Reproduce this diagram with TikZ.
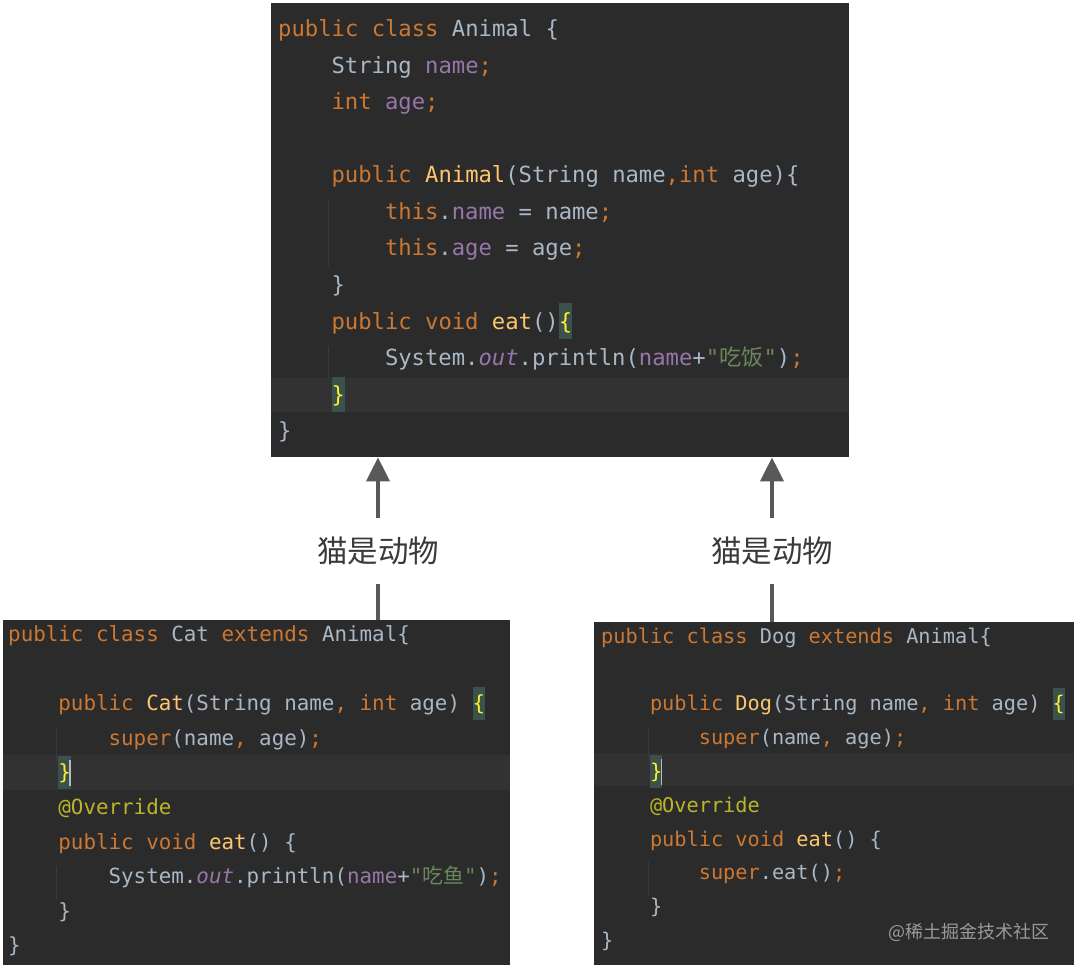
\documentclass[tikz,border=0pt]{standalone}
\usepackage{fontspec}
\usetikzlibrary{arrows.meta}
\newfontfamily\monof{DejaVu Sans Mono}
\newfontfamily\cjk{Noto Sans CJK SC}
\definecolor{bg}{HTML}{2B2B2B}
\definecolor{cur}{HTML}{323232}
\definecolor{kw}{HTML}{CC7832}
\definecolor{fd}{HTML}{9876AA}
\definecolor{fn}{HTML}{FFC66D}
\definecolor{tx}{HTML}{A9B7C6}
\definecolor{st}{HTML}{6A8759}
\definecolor{an}{HTML}{BBB529}
\definecolor{mb}{HTML}{FFEF28}
\definecolor{mbbg}{HTML}{3B514D}
\definecolor{arr}{HTML}{595959}
\definecolor{guide}{HTML}{3A3A3A}
\definecolor{lbl}{HTML}{3A3A3A}
\definecolor{wmc}{HTML}{9A9A9A}
\definecolor{caretc}{HTML}{BBBBBB}
\newcommand\K[1]{\textcolor{kw}{#1}}
\newcommand\F[1]{\textcolor{fd}{#1}}
\newcommand\M[1]{\textcolor{fn}{#1}}
\newcommand\Sx[1]{\textcolor{st}{#1}}
\newcommand\A[1]{\textcolor{an}{#1}}
\newcommand\I[1]{\textcolor{fd}{\itshape #1}}
\newcommand\MB[1]{{\setlength\fboxsep{0pt}\colorbox{mbbg}{\vrule height 1.15em depth 0.45em width 0pt\textcolor{mb}{#1}}}}
\newcommand\Caret{\kern-1.6pt\textcolor{caretc}{\vrule height 0.95em depth 0.3em width 1.6pt}}
\tikzset{
  codebox/.style={fill=bg, draw=none, inner sep=0pt, anchor=north west},
  curline/.style={fill=cur, draw=none},
  guideline/.style={draw=guide, line width=1pt},
  cl/.style={anchor=base west, inner sep=0pt, text=tx},
  topfont/.style={font=\monof\fontsize{22.2}{26}\selectfont},
  catfont/.style={font=\monof\fontsize{20.85}{25}\selectfont},
  dogfont/.style={font=\monof\fontsize{20.27}{24}\selectfont},
  lab/.style={inner sep=0pt, minimum height=66pt, text=lbl, font=\cjk\fontsize{30.5}{34}\selectfont},
  conn/.style={draw=arr, line width=4pt},
  tip/.style={-{Triangle[width=23pt,length=24pt]}}
}
\begin{document}
\begin{tikzpicture}[x=1pt,y=-1pt]
\useasboundingbox[fill=white] (0,0) rectangle (1077,969);

% ---------- boxes ----------
\node[codebox, minimum width=578pt, minimum height=454pt] (animal) at (271,3) {};
\node[codebox, minimum width=507pt, minimum height=345pt] (cat) at (3,620) {};
\node[codebox, minimum width=480pt, minimum height=343pt] (dog) at (594,622) {};

% current line highlights
\fill[curline] (271,378) rectangle (849,412);
\fill[curline] (3,755) rectangle (510,790);
\fill[curline] (594,753) rectangle (1074,786);

% indent guides
\draw[guideline] (328,200) -- (328,266);
\draw[guideline] (328,346) -- (328,378);
\draw[guideline] (56,728) -- (56,762);
\draw[guideline] (56,866) -- (56,900);
\draw[guideline] (648,727) -- (648,760);
\draw[guideline] (648,862) -- (648,896);

% ---------- Animal ----------
\begin{scope}[every node/.append style={cl, topfont}]
\node (t0) at (278,36.6) {\K{public class} Animal \{};
\node (t1) at (331.4,73.15) {String \F{name}\K{;}};
\node (t2) at (331.4,109.7) {\K{int} \F{age}\K{;}};
\node (t4) at (331.4,182.8) {\K{public} \M{Animal}(String name\K{,}\K{int} age)\{};
\node (t5) at (384.8,219.35) {\K{this}.\F{name} = name\K{;}};
\node (t6) at (384.8,255.9) {\K{this}.\F{age} = age\K{;}};
\node (t7) at (331.4,292.45) {\}};
\node (t8) at (331.4,329) {\K{public void} \M{eat}()\MB{\{}};
\node (t9) at (384.8,365.55) {System.\I{out}.println(\F{name}+\Sx{"{\cjk 吃饭}"})\K{;}};
\node (t10) at (331.4,402.1) {\MB{\}}};
\node (t11) at (278,438.65) {\}};
\end{scope}

% ---------- Cat ----------
\begin{scope}[every node/.append style={cl, catfont}]
\node (c0) at (8,641.5) {\K{public class} Cat \K{extends} Animal\{};
\node (c2) at (58.2,710.7) {\K{public} \M{Cat}(String name\K{,} \K{int} age) \MB{\{}};
\node (c3) at (108.4,745.3) {\K{super}(name\K{,} age)\K{;}};
\node (c4) at (58.2,779.9) {\MB{\}}\Caret};
\node (c5) at (58.2,814.5) {\A{@Override}};
\node (c6) at (58.2,849.1) {\K{public void} \M{eat}() \{};
\node (c7) at (108.4,883.7) {System.\I{out}.println(\F{name}+\Sx{"{\cjk 吃鱼}"})\K{;}};
\node (c8) at (58.2,918.3) {\}};
\node (c9) at (8,952.9) {\}};
\end{scope}

% ---------- Dog ----------
\begin{scope}[every node/.append style={cl, dogfont}]
\node (d0) at (601,643.3) {\K{public class} Dog \K{extends} Animal\{};
\node (d2) at (649.8,710.9) {\K{public} \M{Dog}(String name\K{,} \K{int} age) \MB{\{}};
\node (d3) at (698.6,744.7) {\K{super}(name\K{,} age)\K{;}};
\node (d4) at (649.8,778.5) {\MB{\}}\Caret};
\node (d5) at (649.8,812.3) {\A{@Override}};
\node (d6) at (649.8,846.1) {\K{public void} \M{eat}() \{};
\node (d7) at (698.6,879.9) {\K{super}.eat()\K{;}};
\node (d8) at (649.8,913.7) {\}};
\node (d9) at (601,947.5) {\}};
\end{scope}

% watermark
\node[anchor=east, inner sep=0pt, text=wmc, font=\cjk\fontsize{18}{20}\selectfont] (wm) at (1050,932) {@稀土掘金技术社区};

% ---------- labels and connectors ----------
\node[lab] (l1) at (378,551) {猫是动物};
\node[lab] (l2) at (772,551) {猫是动物};

\draw[conn] (cat.north -| l1.south) -- (l1.south);
\draw[conn, tip] (l1.north) -- (l1.north |- animal.south);
\draw[conn] (dog.north -| l2.south) -- (l2.south);
\draw[conn, tip] (l2.north) -- (l2.north |- animal.south);
\end{tikzpicture}
\end{document}
